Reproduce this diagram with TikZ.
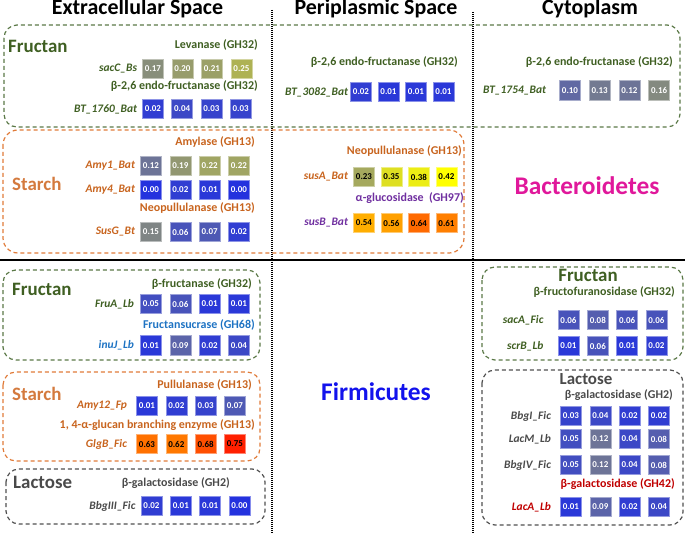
\documentclass[tikz,border=0pt]{standalone}
\usepackage{fontspec}
\setmainfont{Carlito}
\usepackage{xcolor}
\usepackage{tikz}
\usetikzlibrary{positioning}
\definecolor{greenx}{HTML}{3F5F22}
\definecolor{orangex}{HTML}{C8641E}
\definecolor{starchx}{HTML}{D47A3E}
\definecolor{purplex}{HTML}{7030A0}
\definecolor{bluex}{HTML}{1E73C3}
\definecolor{grayx}{HTML}{4A4A4A}
\definecolor{redx}{HTML}{C00000}
\definecolor{magx}{HTML}{E0189B}
\definecolor{firmx}{HTML}{1212EC}
\definecolor{gbox}{HTML}{5A7846}
\definecolor{obox}{HTML}{E07B39}
\definecolor{kbox}{HTML}{505050}
\definecolor{hblue}{HTML}{2432DE}
\definecolor{hgray}{HTML}{7F8585}
\definecolor{hyel}{HTML}{FFFF00}
\definecolor{hred}{HTML}{FF2000}
\colorlet{cf}{hgray}
\tikzset{
  cell/.style={minimum width=21bp,minimum height=19.5bp,inner sep=0pt,fill=cf,draw=cf!55!white,
    line width=0.6bp,text=white,font=\fontsize{9}{9}\selectfont\bfseries},
  grp/.style={rounded corners=13bp,dash pattern=on 4bp off 3bp,line width=1.2bp},
  vsep/.style={dash pattern=on 1bp off 1bp,line width=1.3bp},
  gene/.style={anchor=east,inner sep=0pt,font=\fontsize{11.5}{12}\selectfont\bfseries\itshape},
  enz/.style={anchor=east,inner sep=0pt,font=\fontsize{12}{12}\selectfont\bfseries},
  head/.style={inner sep=0pt,font=\fontsize{19}{19}\selectfont\bfseries},
  coltitle/.style={anchor=base,inner sep=0pt,font=\fontsize{22}{22}\selectfont\bfseries},
  phylum/.style={anchor=base,inner sep=0pt,font=\fontsize{25.5}{26}\selectfont\bfseries}
}
% value -> colour: blue, grey, yellow, red
\newcommand{\heatcol}[1]{%
  \pgfmathsetmacro\hv{#1}%
  \ifdim\hv pt<0.15pt
    \pgfmathsetmacro\hp{\hv/0.15*100}\colorlet{cf}{hgray!\hp!hblue}%
  \else\ifdim\hv pt<0.42pt
    \pgfmathsetmacro\hp{(\hv-0.15)/0.27*100}\colorlet{cf}{hyel!\hp!hgray}%
  \else
    \pgfmathsetmacro\hp{min(100,(\hv-0.42)/0.33*100)}\colorlet{cf}{hred!\hp!hyel}%
  \fi\fi}
\newcommand{\heatrow}[6][]{%
  \foreach \v [count=\i] in {#6}{%
    \heatcol{\v}%
    \node[cell,#1] (#2\i) at ({#3+(\i-1)*#5},#4) {\v};}}

\begin{document}
\begin{tikzpicture}[x=1bp,y=-1bp]
\useasboundingbox (0,0) rectangle (685,535);
\node[coltitle] (extra) at (137.5,15) {Extracellular Space};
\node[coltitle] (peri) at (376,15) {Periplasmic Space};
\node[coltitle] (cyto) at (590,15) {Cytoplasm};
\draw[vsep] (272,10) -- (272,533);
\draw[vsep] (473,12) -- (473,533);
\draw[line width=1.8bp] (0,260) -- (685,260);

% Bacteroidetes
\draw[grp,gbox] (4,25) rectangle (680,127);
\draw[grp,obox,rounded corners=15bp] (3,130) rectangle (464,253);
\node[head,greenx,anchor=base west] (fru1) at (8,53) {Fructan};
\node[head,starchx,anchor=base west] (sta1) at (12,191) {Starch};
\node[phylum,magx] (bact) at (587,195) {Bacteroidetes};

\node[enz,greenx] (levan) at (258,45) {Levanase (GH32)};
\heatrow{sacC}{153}{69}{29.5}{0.17,0.20,0.21,0.25}
\node[gene,greenx,left=5bp of sacC1] (sacC) {sacC\_Bs};
\node[enz,greenx] (endoA) at (258,86) {β-2,6 endo-fructanase (GH32)};
\heatrow{btA}{153}{109}{29.2}{0.02,0.04,0.03,0.03}
\node[gene,greenx,left=5bp of btA1] (btA) {BT\_1760\_Bat};

\node[enz,greenx] (endoB) at (458,62) {β-2,6 endo-fructanase (GH32)};
\heatrow{btB}{361}{92}{27.5}{0.02,0.01,0.01,0.01}
\node[gene,greenx,left=2bp of btB1] (btB) {BT\_3082\_Bat};

\node[enz,greenx] (endoC) at (673,62) {β-2,6 endo-fructanase (GH32)};
\heatrow{btC}{570}{90.5}{29.7}{0.10,0.13,0.12,0.16}
\node[gene,greenx,left=13bp of btC1] (btC) {BT\_1754\_Bat};

\node[enz,orangex] (amyl) at (255,142) {Amylase (GH13)};
\heatrow{amyA}{151}{166}{29.3}{0.12,0.19,0.22,0.22}
\node[gene,orangex,left=5bp of amyA1] (amyA) {Amy1\_Bat};
\heatrow{amyB}{151}{190}{29.3}{0.00,0.02,0.01,0.00}
\node[gene,orangex,left=5bp of amyB1] (amyB) {Amy4\_Bat};
\node[enz,orangex] (neoA) at (255,208) {Neopullulanase (GH13)};
\heatrow{susG}{151}{232}{29.3}{0.15,0.06,0.07,0.02}
\node[gene,orangex,left=5bp of susG1] (susG) {SusG\_Bt};

\node[enz,orangex] (neoB) at (462,151) {Neopullulanase (GH13)};
\heatrow[text=black]{susA}{364}{177}{27.5}{0.23,0.35,0.38,0.42}
\node[gene,orangex,left=5bp of susA1] (susA) {susA\_Bat};
\node[enz,purplex] (aglu) at (464,198) {α-glucosidase~~(GH97)};
\heatrow[text=black]{susB}{364}{223}{27.5}{0.54,0.56,0.64,0.61}
\node[gene,purplex,left=5bp of susB1] (susB) {susB\_Bat};

% Firmicutes
\draw[grp,gbox] (3,270) rectangle (260,360);
\draw[grp,obox] (3,372) rectangle (260,461);
\draw[grp,kbox] (6,469) rectangle (265,524);
\draw[grp,gbox] (482,267) rectangle (683,360);
\draw[grp,kbox] (482,370) rectangle (683,525);
\node[phylum,firmx] (firm) at (376,400) {Firmicutes};

\node[head,greenx,anchor=base west] (fru2) at (12,295) {Fructan};
\node[enz,greenx] (bfru) at (252,284) {β-fructanase (GH32)};
\heatrow{fruA}{151}{304}{29.3}{0.05,0.06,0.01,0.01}
\node[gene,greenx,left=6bp of fruA1] (fruA) {FruA\_Lb};
\node[enz,bluex] (fsuc) at (255,325) {Fructansucrase (GH68)};
\heatrow{inuJ}{151}{345.5}{29.3}{0.01,0.09,0.02,0.04}
\node[gene,bluex,left=6bp of inuJ1] (inuJ) {inuJ\_Lb};

\node[head,starchx,anchor=base west] (sta2) at (12,400) {Starch};
\node[enz,orangex] (pull) at (252,385) {Pullulanase (GH13)};
\heatrow{amyC}{147}{406}{29.3}{0.01,0.02,0.03,0.07}
\node[gene,orangex,left=9bp of amyC1] (amyC) {Amy12\_Fp};
\node[enz,orangex] (glcb) at (255,425) {1, 4-α-glucan branching enzyme (GH13)};
\heatrow[text=black]{glgB}{147}{444}{29.3}{0.63,0.62,0.68,0.75}
\node[gene,orangex,left=9bp of glgB1] (glgB) {GlgB\_Fic};

\node[head,grayx,anchor=base west] (lac1) at (13,488) {Lactose};
\node[enz,grayx] (bgalA) at (230,483) {β-galactosidase (GH2)};
\heatrow{bbgC}{151.5}{506}{29.3}{0.02,0.01,0.01,0.00}
\node[gene,grayx,left=5bp of bbgC1] (bbgC) {BbgIII\_Fic};

\node[head,greenx,anchor=base] (fru3) at (588,281) {Fructan};
\node[enz,greenx] (bfrf) at (675,292.5) {β-fructofuranosidase (GH32)};
\heatrow{sacA}{568.5}{320}{29.3}{0.06,0.08,0.06,0.06}
\node[gene,greenx,left=14bp of sacA1] (sacA) {sacA\_Fic};
\heatrow{scrB}{568.5}{346}{29.3}{0.01,0.06,0.01,0.02}
\node[gene,greenx,left=14bp of scrB1] (scrB) {scrB\_Lb};

\node[head,grayx,anchor=base,font=\fontsize{17}{17}\selectfont\bfseries] (lac2) at (586,384) {Lactose};
\node[enz,grayx] (bgalB) at (673,395.5) {β-galactosidase (GH2)};
\heatrow{bbgA}{571}{416}{29.3}{0.03,0.04,0.02,0.02}
\node[gene,grayx,left=9bp of bbgA1] (bbgA) {BbgI\_Fic};
\heatrow{lacM}{571}{439}{29.3}{0.05,0.12,0.04,0.08}
\node[gene,grayx,left=9bp of lacM1] (lacM) {LacM\_Lb};
\heatrow{bbgD}{571}{465}{29.3}{0.05,0.12,0.04,0.08}
\node[gene,grayx,left=9bp of bbgD1] (bbgD) {BbgIV\_Fic};
\node[enz,redx] (bgalC) at (675,484) {β-galactosidase (GH42)};
\heatrow{lacA}{571}{507}{29.3}{0.01,0.09,0.02,0.04}
\node[gene,redx,left=9bp of lacA1] (lacA) {LacA\_Lb};
\end{tikzpicture}
\end{document}
